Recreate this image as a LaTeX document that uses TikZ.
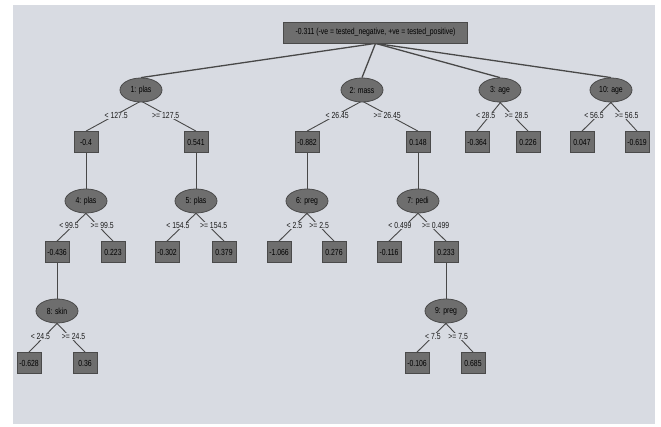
\documentclass[tikz,border=0pt]{standalone}
\usepackage{fontspec}
\setmainfont{Liberation Sans}[FakeStretch=0.78]
\usetikzlibrary{shapes.geometric,backgrounds}
\pgfdeclarelayer{bgzero}
\pgfsetlayers{bgzero,background,main}
\definecolor{panel}{HTML}{D8DBE2}
\definecolor{nodefill}{HTML}{6E6E6E}
\definecolor{nodeedge}{HTML}{4A4A4A}
\definecolor{linec}{HTML}{484848}
\tikzset{
  pred/.style={rectangle, draw=nodeedge, fill=nodefill, line width=0.8pt,
    minimum width=24, minimum height=21, inner sep=1.8pt,
    font=\fontsize{8.8}{9}\selectfont, text=black},
  split/.style={ellipse, draw=nodeedge, fill=nodefill, line width=0.8pt,
    minimum width=42, minimum height=24, inner sep=0.5pt,
    font=\fontsize{8.8}{9}\selectfont, text=black},
  cond/.style={fill=panel, inner sep=0.5pt, font=\fontsize{8.8}{9}\selectfont, text=black!90},
  conn/.style={draw=linec, line width=0.9pt},
  rootconn/.style={draw=linec, line width=1.3pt},
}
\begin{document}
\begin{tikzpicture}[x=1pt,y=-1pt]
\useasboundingbox (0,0) rectangle (661,427);
\begin{pgfonlayer}{bgzero}
  \fill[white] (0,0) rectangle (661,427);
  \fill[panel] (12.6,5) rectangle (655,424);
\end{pgfonlayer}

% root
\node[pred, minimum width=184, inner sep=1pt] (root) at (375.5,32.5) {-0.311 (-ve = tested\_negative, +ve = tested\_positive)};

% level 1 splitters
\node[split] (s1) at (141,90) {1: plas};
\node[split] (s2) at (362,90) {2: mass};
\node[split] (s3) at (500,90) {3: age};
\node[split] (s10) at (611,90) {10: age};

% level 1 predictions
\node[pred] (p1a) at (86,142) {-0.4};
\node[pred] (p1b) at (196,142) {0.541};
\node[pred] (p2a) at (307,142) {-0.882};
\node[pred] (p2b) at (418,142) {0.148};
\node[pred] (p3a) at (477,142) {-0.364};
\node[pred] (p3b) at (528,142) {0.226};
\node[pred] (p10a) at (582,142) {0.047};
\node[pred] (p10b) at (637,142) {-0.619};

% level 2 splitters
\node[split] (s4) at (86,201) {4: plas};
\node[split] (s5) at (196,201) {5: plas};
\node[split] (s6) at (307,201) {6: preg};
\node[split] (s7) at (418,201) {7: pedi};

% level 2 predictions
\node[pred] (p4a) at (57,252) {-0.436};
\node[pred] (p4b) at (113,252) {0.223};
\node[pred] (p5a) at (167,252) {-0.302};
\node[pred] (p5b) at (224,252) {0.379};
\node[pred] (p6a) at (279,252) {-1.066};
\node[pred] (p6b) at (334,252) {0.276};
\node[pred] (p7a) at (389,252) {-0.116};
\node[pred] (p7b) at (446,252) {0.233};

% level 3 splitters
\node[split] (s8) at (57,311) {8: skin};
\node[split] (s9) at (446,311) {9: preg};

% level 3 predictions
\node[pred] (p8a) at (29,363) {-0.628};
\node[pred] (p8b) at (85,363) {0.36};
\node[pred] (p9a) at (417,363) {-0.106};
\node[pred] (p9b) at (473,363) {0.685};

\begin{pgfonlayer}{background}
  \draw[rootconn] (root.south) -- (s1.north);
  \draw[rootconn] (root.south) -- (s2.north);
  \draw[rootconn] (root.south) -- (s3.north);
  \draw[rootconn] (root.south) -- (s10.north);
  \foreach \s/\a/\b in {s1/p1a/p1b, s2/p2a/p2b, s3/p3a/p3b, s10/p10a/p10b,
                        s4/p4a/p4b, s5/p5a/p5b, s6/p6a/p6b, s7/p7a/p7b,
                        s8/p8a/p8b, s9/p9a/p9b}{
    \draw[conn] ([xshift=3pt,yshift=3pt]\s.south) -- (\a.north);
    \draw[conn] ([xshift=-3pt,yshift=3pt]\s.south) -- (\b.north);
  }
  \draw[conn] (p1a.south) -- (s4.north);
  \draw[conn] (p1b.south) -- (s5.north);
  \draw[conn] (p2a.south) -- (s6.north);
  \draw[conn] (p2b.south) -- (s7.north);
  \draw[conn] (p4a.south) -- (s8.north);
  \draw[conn] (p7b.south) -- (s9.north);
\end{pgfonlayer}

% condition labels
\path (s1.south) -- node[cond, pos=0.45] {< 127.5} (p1a.north);
\path (s1.south) -- node[cond, pos=0.45] {>= 127.5} (p1b.north);
\path (s2.south) -- node[cond, pos=0.45] {< 26.45} (p2a.north);
\path (s2.south) -- node[cond, pos=0.45] {>= 26.45} (p2b.north);
\path (s3.south) -- node[cond, pos=0.45, xshift=-4pt] {< 28.5} (p3a.north);
\path (s3.south) -- node[cond, pos=0.45, xshift=4pt] {>= 28.5} (p3b.north);
\path (s10.south) -- node[cond, pos=0.45, xshift=-4pt] {< 56.5} (p10a.north);
\path (s10.south) -- node[cond, pos=0.45, xshift=4pt] {>= 56.5} (p10b.north);
\path (s4.south) -- node[cond, pos=0.45, xshift=-4pt] {< 99.5} (p4a.north);
\path (s4.south) -- node[cond, pos=0.45, xshift=4pt] {>= 99.5} (p4b.north);
\path (s5.south) -- node[cond, pos=0.45, xshift=-5pt] {< 154.5} (p5a.north);
\path (s5.south) -- node[cond, pos=0.45, xshift=5pt] {>= 154.5} (p5b.north);
\path (s6.south) -- node[cond, pos=0.45] {< 2.5} (p6a.north);
\path (s6.south) -- node[cond, pos=0.45] {>= 2.5} (p6b.north);
\path (s7.south) -- node[cond, pos=0.45, xshift=-5pt] {< 0.499} (p7a.north);
\path (s7.south) -- node[cond, pos=0.45, xshift=5pt] {>= 0.499} (p7b.north);
\path (s8.south) -- node[cond, pos=0.45, xshift=-4pt] {< 24.5} (p8a.north);
\path (s8.south) -- node[cond, pos=0.45, xshift=4pt] {>= 24.5} (p8b.north);
\path (s9.south) -- node[cond, pos=0.45] {< 7.5} (p9a.north);
\path (s9.south) -- node[cond, pos=0.45] {>= 7.5} (p9b.north);
\end{tikzpicture}
\end{document}
